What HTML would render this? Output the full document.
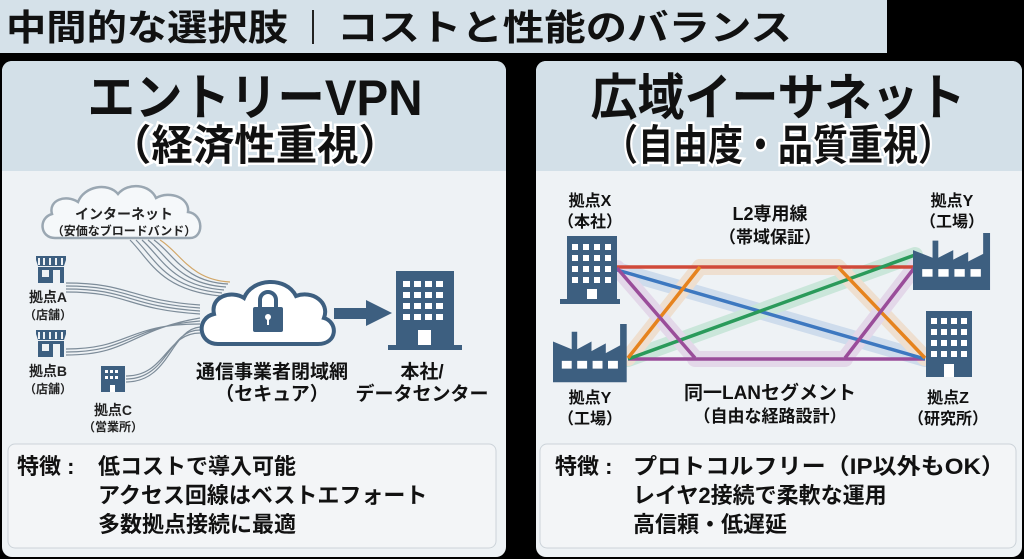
<!DOCTYPE html>
<html><head><meta charset="utf-8"><style>
html,body{margin:0;padding:0;background:#000;}
body{width:1024px;height:559px;position:relative;overflow:hidden;font-family:"Liberation Sans","Noto Sans CJK JP",sans-serif;}
svg{position:absolute;left:0;top:0}
</style></head><body>
<svg width="1024" height="559" viewBox="0 0 1024 559" font-family="'Liberation Sans','Noto Sans CJK JP',sans-serif" font-weight="bold">
<defs>
<g id="store"><path d="M0 0h30v4l-2 6h-26l-2-6z" fill="#3d5f80"/><path d="M3 2v7M8 2v7M14 2v7M20 2v7M26 2v7" stroke="#eef2f5" stroke-width="2"/><rect x="2" y="11" width="26" height="16" fill="#3d5f80"/><rect x="6" y="14" width="7" height="7" fill="#eef2f5"/><rect x="17" y="14" width="7" height="13" fill="#eef2f5"/></g>
<g id="fac"><path d="M0 60V18L17 26V8h5V26L35 18v10l13-8v10l13-8V0h6V60z" fill="#3d5f80"/><g fill="#fff"><rect x="8" y="38" width="9" height="8"/><rect x="22" y="38" width="9" height="8"/><rect x="36" y="38" width="9" height="8"/><rect x="50" y="38" width="9" height="8"/></g></g>
</defs>
<!-- header -->
<rect x="0" y="0" width="887" height="53" fill="#d5e1e9"/>
<text x="6" y="40" font-size="36" fill="#111" textLength="282" lengthAdjust="spacingAndGlyphs">中間的な選択肢</text>
<rect x="312" y="10" width="2" height="34" fill="#222"/>
<text x="337" y="40" font-size="36" fill="#111" textLength="455" lengthAdjust="spacingAndGlyphs">コストと性能のバランス</text>
<!-- left panel -->
<rect x="2" y="61" width="504" height="496" rx="10" fill="#eef2f5"/>
<path d="M2 171V71a10 10 0 0 1 10-10h484a10 10 0 0 1 10 10v100z" fill="#d3e0e8"/>
<text x="255" y="115" font-size="50" fill="#111" text-anchor="middle" textLength="335" lengthAdjust="spacingAndGlyphs">エントリーVPN</text>
<text x="255" y="160" font-size="42" fill="#111" stroke="#fff" stroke-width="5" paint-order="stroke" text-anchor="middle" textLength="290" lengthAdjust="spacingAndGlyphs">（経済性重視）</text>
<!-- right panel -->
<rect x="536" y="61" width="486" height="496" rx="10" fill="#eef2f5"/>
<path d="M536 171V71a10 10 0 0 1 10-10h466a10 10 0 0 1 10 10v100z" fill="#d3e0e8"/>
<text x="778" y="115" font-size="50" fill="#111" text-anchor="middle" textLength="375" lengthAdjust="spacingAndGlyphs">広域イーサネット</text>
<text x="778" y="160" font-size="42" fill="#111" stroke="#fff" stroke-width="5" paint-order="stroke" text-anchor="middle" textLength="350" lengthAdjust="spacingAndGlyphs">（自由度・品質重視）</text>

<!-- left diagram: lines -->
<g fill="none" stroke="#7d8c99" stroke-width="1.2">
<path d="M66 283C130 283 130 300 200 305M66 286C130 286 128 303 200 308M66 289C130 289 126 306 200 311M66 292C130 292 124 309 200 314"/>
<path d="M66 355C130 355 130 330 200 318M66 352C130 352 128 327 200 321M66 349C130 349 126 324 200 324"/>
<path d="M126 382C170 382 170 330 200 327M126 379C168 379 168 330 200 330M126 376C166 376 166 333 200 333"/>
<path d="M130 240C150 260 160 290 220 296M136 240C156 260 166 288 222 293M142 240C162 258 172 286 224 290M148 240C168 256 178 284 226 287M154 240C174 254 184 282 228 284"/>
<path d="M160 240C180 252 190 280 230 282" stroke="#d2a768"/>
</g>
<!-- internet cloud -->
<path d="M55 238C40 238 38 218 52 214C48 200 66 194 78 202C84 186 108 182 118 194C128 182 150 184 156 198C170 190 190 198 188 212C204 214 204 238 190 238Z" fill="#f5f8fa" stroke="#9aa7b2" stroke-width="2.5"/>
<text x="124" y="219" font-size="14" fill="#222" text-anchor="middle">インターネット</text>
<text x="124" y="235" font-size="12" fill="#222" text-anchor="middle">（安価なブロードバンド）</text>
<use href="#store" x="36" y="256"/>
<use href="#store" x="36" y="330"/>
<text x="48" y="302" font-size="14" fill="#222" text-anchor="middle">拠点A</text>
<text x="48" y="319" font-size="12" fill="#222" text-anchor="middle">（店舗）</text>
<text x="48" y="376" font-size="14" fill="#222" text-anchor="middle">拠点B</text>
<text x="48" y="393" font-size="12" fill="#222" text-anchor="middle">（店舗）</text>
<rect x="101" y="366" width="24" height="26" fill="#3d5f80"/>
<g fill="#fff"><rect x="105" y="370" width="3" height="3"/><rect x="110" y="370" width="3" height="3"/><rect x="115" y="370" width="3" height="3"/><rect x="105" y="376" width="3" height="3"/><rect x="110" y="376" width="3" height="3"/><rect x="115" y="376" width="3" height="3"/><rect x="110" y="385" width="5" height="7"/></g>
<text x="113" y="415" font-size="14" fill="#222" text-anchor="middle">拠点C</text>
<text x="113" y="431" font-size="12" fill="#222" text-anchor="middle">（営業所）</text>
<!-- secure cloud -->
<path d="M218 344C198 344 196 318 214 314C210 296 232 290 244 298C252 278 286 276 296 296C312 290 330 302 324 318C338 322 338 344 318 344Z" fill="#fff" stroke="#3d5f80" stroke-width="4"/>
<path d="M260 308v-8a8 8 0 0 1 16 0v8" fill="none" stroke="#3d5f80" stroke-width="4"/>
<rect x="253" y="307" width="30" height="25" rx="2" fill="#3d5f80"/>
<circle cx="268" cy="317" r="3" fill="#fff"/><rect x="267" y="318" width="2" height="7" fill="#fff"/>
<rect x="334" y="308" width="34" height="11" fill="#3d5f80"/>
<path d="M366 300L392 313L366 326Z" fill="#3d5f80"/>
<!-- HQ building -->
<rect x="396" y="271" width="58" height="76" fill="#3d5f80"/>
<rect x="388" y="345" width="74" height="5" fill="#3d5f80"/>
<g fill="#fff"><rect x="403" y="281" width="7" height="6"/><rect x="414" y="281" width="7" height="6"/><rect x="425" y="281" width="7" height="6"/><rect x="436" y="281" width="7" height="6"/><rect x="403" y="292" width="7" height="6"/><rect x="414" y="292" width="7" height="6"/><rect x="425" y="292" width="7" height="6"/><rect x="436" y="292" width="7" height="6"/><rect x="403" y="303" width="7" height="6"/><rect x="414" y="303" width="7" height="6"/><rect x="425" y="303" width="7" height="6"/><rect x="436" y="303" width="7" height="6"/><rect x="403" y="314" width="7" height="6"/><rect x="414" y="314" width="7" height="6"/><rect x="425" y="314" width="7" height="6"/><rect x="436" y="314" width="7" height="6"/><rect x="418" y="330" width="13" height="15"/></g>
<text x="272" y="378" font-size="19" fill="#111" text-anchor="middle">通信事業者閉域網</text>
<text x="272" y="400" font-size="19" fill="#111" text-anchor="middle">（セキュア）</text>
<text x="422" y="378" font-size="19" fill="#111" text-anchor="middle">本社/</text>
<text x="422" y="400" font-size="19" fill="#111" text-anchor="middle">データセンター</text>
<!-- left features -->
<rect x="8" y="444" width="488" height="104" rx="7" fill="#f3f5f7" stroke="#ccd3d9" stroke-width="1"/>
<g font-size="22" fill="#111">
<text x="17" y="474">特徴 :</text>
<text x="98" y="474">低コストで導入可能</text>
<text x="98" y="503">アクセス回線はベストエフォート</text>
<text x="98" y="532">多数拠点接続に最適</text>
</g>

<!-- right diagram -->
<g fill="none" stroke-linecap="round" opacity="0.22" stroke-width="16">
<path d="M700 267H838" stroke="#f0a050"/>
<path d="M695 359H845" stroke="#c080c0"/>
<path d="M617 270L925 359" stroke="#6090d0"/>
<path d="M628 359L915 255" stroke="#50c080"/>
<path d="M628 358L700 267M838 267L925 358" stroke="#f0a050"/>
<path d="M617 268L695 358M845 358L915 267" stroke="#c080c0"/>
</g>
<g fill="none" stroke-width="3.5">
<path d="M617 267H915" stroke="#d04a3a"/>
<path d="M628 359H925" stroke="#9a4d9a"/>
<path d="M617 270L925 359" stroke="#3d78c0"/>
<path d="M628 359L915 255" stroke="#2a9a5a"/>
<path d="M628 358L700 267M838 267L925 358" stroke="#e6831e"/>
<path d="M617 268L695 358M845 358L915 267" stroke="#9a4d9a"/>
</g>
<!-- building X -->
<rect x="567" y="236" width="50" height="64" fill="#3d5f80"/>
<rect x="560" y="299" width="60" height="5" fill="#3d5f80"/>
<g fill="#fff"><rect x="572" y="244" width="6" height="6"/><rect x="583" y="244" width="6" height="6"/><rect x="594" y="244" width="6" height="6"/><rect x="605" y="244" width="6" height="6"/><rect x="572" y="255" width="6" height="6"/><rect x="583" y="255" width="6" height="6"/><rect x="594" y="255" width="6" height="6"/><rect x="605" y="255" width="6" height="6"/><rect x="572" y="266" width="6" height="6"/><rect x="583" y="266" width="6" height="6"/><rect x="594" y="266" width="6" height="6"/><rect x="605" y="266" width="6" height="6"/><rect x="572" y="277" width="6" height="6"/><rect x="583" y="277" width="6" height="6"/><rect x="594" y="277" width="6" height="6"/><rect x="605" y="277" width="6" height="6"/><rect x="587" y="289" width="10" height="10"/></g>
<use href="#fac" x="553" y="324" transform="translate(553 324) scale(1.1 0.97) translate(-553 -324)"/>
<use href="#fac" x="913" y="233" transform="translate(913 233) scale(1.15 0.95) translate(-913 -233)"/>
<!-- building Z -->
<rect x="926" y="311" width="46" height="66" fill="#3d5f80"/>
<g fill="#fff"><rect x="931" y="318" width="6" height="6"/><rect x="941" y="318" width="6" height="6"/><rect x="951" y="318" width="6" height="6"/><rect x="961" y="318" width="6" height="6"/><rect x="931" y="329" width="6" height="6"/><rect x="941" y="329" width="6" height="6"/><rect x="951" y="329" width="6" height="6"/><rect x="961" y="329" width="6" height="6"/><rect x="931" y="340" width="6" height="6"/><rect x="941" y="340" width="6" height="6"/><rect x="951" y="340" width="6" height="6"/><rect x="961" y="340" width="6" height="6"/><rect x="931" y="351" width="6" height="6"/><rect x="941" y="351" width="6" height="6"/><rect x="951" y="351" width="6" height="6"/><rect x="961" y="351" width="6" height="6"/><rect x="944" y="364" width="10" height="13"/></g>
<g font-size="16" fill="#111" text-anchor="middle">
<text x="590" y="206">拠点X</text><text x="590" y="227">（本社）</text>
<text x="952" y="206">拠点Y</text><text x="952" y="227">（工場）</text>
<text x="590" y="403">拠点Y</text><text x="590" y="424">（工場）</text>
<text x="948" y="403">拠点Z</text><text x="948" y="424">（研究所）</text>
<text x="770" y="220" font-size="18">L2専用線</text><text x="770" y="243" font-size="17">（帯域保証）</text>
<text x="770" y="399" font-size="19">同一LANセグメント</text><text x="770" y="422" font-size="17">（自由な経路設計）</text>
</g>
<!-- right features -->
<rect x="540" y="444" width="476" height="104" rx="7" fill="#f3f5f7" stroke="#ccd3d9" stroke-width="1"/>
<g font-size="22" fill="#111">
<text x="555" y="474">特徴 :</text>
<text x="633" y="474" textLength="372" lengthAdjust="spacingAndGlyphs">プロトコルフリー（IP以外もOK）</text>
<text x="633" y="503">レイヤ2接続で柔軟な運用</text>
<text x="633" y="532">高信頼・低遅延</text>
</g>
</svg>
</body></html>
